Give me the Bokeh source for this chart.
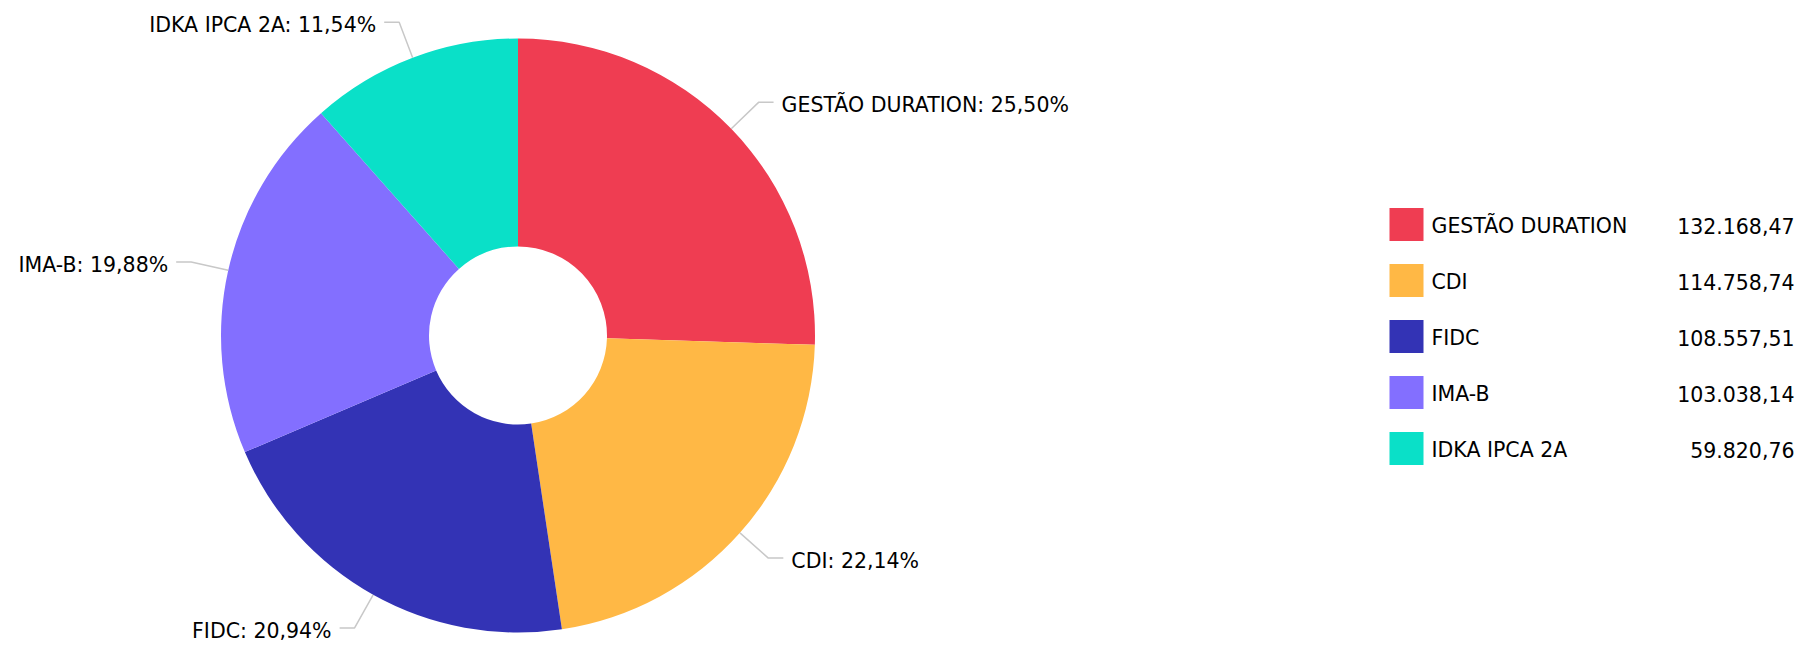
import math
from bokeh.plotting import figure
from bokeh.models import Range1d
from bokeh.core.properties import value
from bokeh.embed import file_html
from bokeh.resources import INLINE

# ---- data ----
categories = ["GESTÃO DURATION", "CDI", "FIDC", "IMA-B", "IDKA IPCA 2A"]
values = [132168.47, 114758.74, 108557.51, 103038.14, 59820.76]
colors = ["#EF3D52", "#FFB845", "#3333B5", "#836FFF", "#0AE0C8"]

# ---- layout ----
W, H = 1801, 645
CX, CY = 517.5, 335.0          # pie centre (screen px, y down)
R_OUT, R_IN = 297.0, 89.0
R_ELBOW = 335.0
HSEG, GAP = 15.0, 8.0
FONT = value("DejaVu Sans")
FSIZE = "20.5px"

def sy(y):
    return H - y

def br(v):
    s = f"{v:,.2f}"
    return s.replace(",", "#").replace(".", ",").replace("#", ".")

p = figure(width=W, height=H, output_backend="svg", toolbar_location=None,
           x_range=Range1d(0, W), y_range=Range1d(0, H),
           min_border=0, x_axis_location=None, y_axis_location=None)
p.grid.visible = False
p.outline_line_color = None
p.background_fill_color = "white"
p.border_fill_color = "white"

total = sum(values)
fracs = [v / total for v in values]
cum = 0.0
starts, ends = [], []
lx, ly, tx, ty, talign = [], [], [], [], []
for f in fracs:
    a0 = math.pi / 2 - 2 * math.pi * cum
    a1 = math.pi / 2 - 2 * math.pi * (cum + f)
    starts.append(a0)
    ends.append(a1)
    mid = 2 * math.pi * (cum + f / 2)  # clockwise from top
    s, c = math.sin(mid), math.cos(mid)
    ex, ey = CX + R_OUT * s, CY - R_OUT * c
    bx, by = CX + R_ELBOW * s, CY - R_ELBOW * c
    side = 1 if s >= 0 else -1
    hx = bx + side * HSEG
    lx.append([ex, bx, hx])
    ly.append([sy(ey), sy(by), sy(by)])
    tx.append(hx + side * GAP)
    ty.append(sy(by + 3))
    talign.append("left" if side > 0 else "right")
    cum += f

p.annular_wedge(x=CX, y=sy(CY), inner_radius=R_IN, outer_radius=R_OUT,
                start_angle=starts, end_angle=ends, direction="clock",
                fill_color=colors, line_color=None)

p.multi_line(xs=lx, ys=ly, line_color="#c8c8c8", line_width=1.5)

labels = [f"{c}: {f*100:.2f}%".replace(".", ",") for c, f in zip(categories, fracs)]
for i in range(len(labels)):
    p.text(x=[tx[i]], y=[ty[i]], text=[labels[i]], text_align=talign[i],
           text_baseline="middle", text_font=FONT, text_font_size=FSIZE,
           text_color="#000000")

# ---- legend ----
LEG_X, LEG_Y0, LEG_DY = 1389, 224, 56
SW, SH = 34, 33
VAL_X = 1794
for i, (c, v, col) in enumerate(zip(categories, values, colors)):
    yc = LEG_Y0 + LEG_DY * i
    p.rect(x=[LEG_X + SW / 2], y=[sy(yc)], width=SW, height=SH,
           fill_color=col, line_color=None)
    p.text(x=[LEG_X + SW + 8], y=[sy(yc + 1)], text=[c], text_align="left",
           text_baseline="middle", text_font=FONT, text_font_size=FSIZE,
           text_color="#000000")
    p.text(x=[VAL_X], y=[sy(yc + 1)], text=[br(v)], text_align="right",
           text_baseline="middle", text_font=FONT, text_font_size=FSIZE,
           text_color="#000000")

open("out.html", "w").write(file_html(p, INLINE))
